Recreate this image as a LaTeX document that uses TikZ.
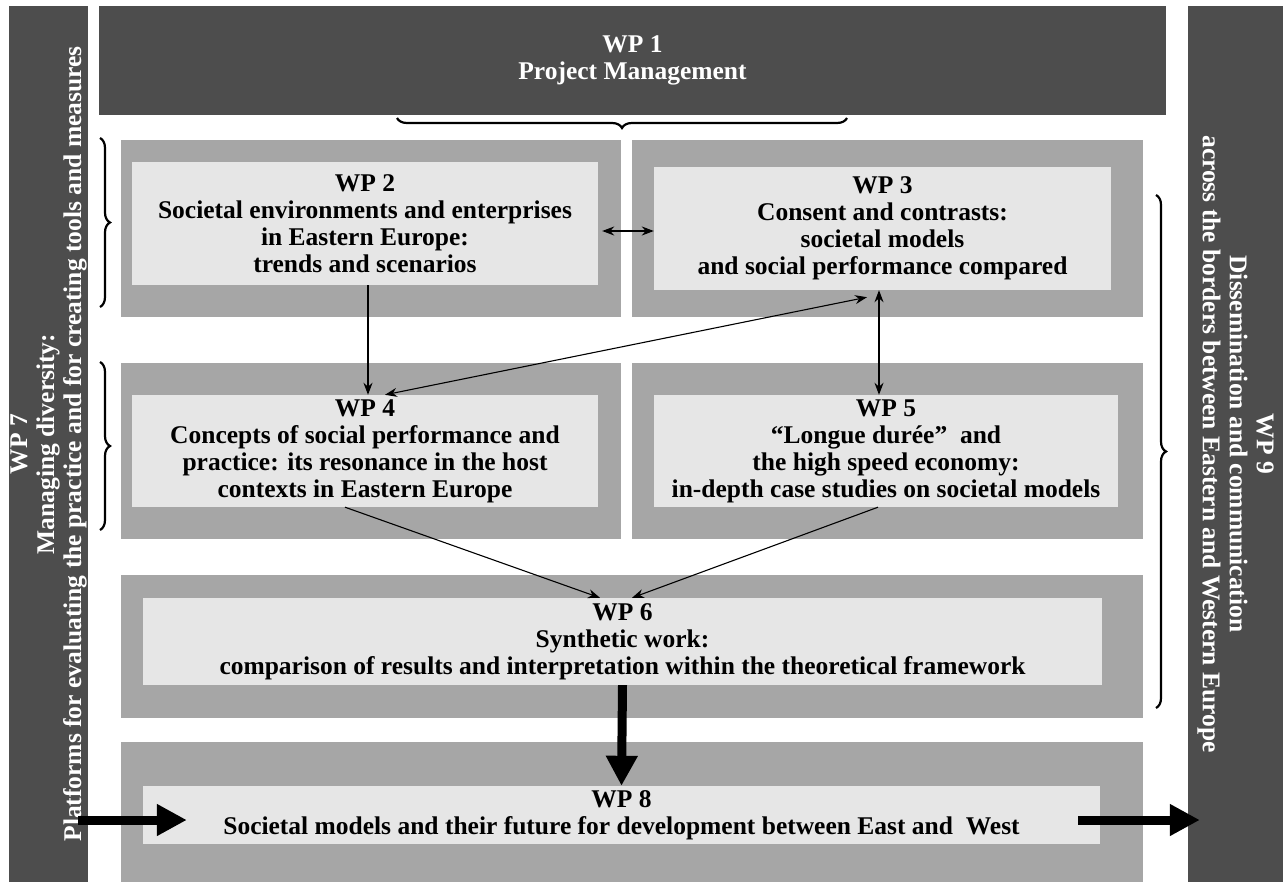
\documentclass[tikz,border=0pt]{standalone}
\usepackage{fontspec}
\setmainfont{Liberation Serif}
\usetikzlibrary{arrows.meta,decorations.pathreplacing,calc}
\definecolor{bardark}{HTML}{4D4D4D}
\definecolor{boxmid}{HTML}{A6A6A6}
\definecolor{boxlight}{HTML}{E6E6E6}
\newcommand\wpfont{\fontsize{25.5}{27}\selectfont\bfseries}
\begin{document}
\begin{tikzpicture}[x=1pt,y=-1pt,
  darkbox/.style={fill=bardark, draw=none, text=white, font=\wpfont, align=center, inner sep=0pt},
  outerbox/.style={fill=boxmid, draw=none, inner sep=0pt},
  innerbox/.style={fill=boxlight, draw=none, align=center, font=\wpfont, inner sep=0pt},
  thinarrow/.style={line width=1.1pt, -{Stealth[length=12pt,width=9pt]}},
  thinboth/.style={line width=1.1pt, {Stealth[length=12pt,width=9pt]}-{Stealth[length=12pt,width=9pt]}},
  thickarrow/.style={line width=9pt, -{Triangle[length=30pt,width=30pt]}},
  bracestyle/.style={decorate, decoration={brace, amplitude=10pt}, line width=2.2pt}]
\useasboundingbox[fill=white] (0,0) rectangle (1288,883);

% side bars and top
\node[darkbox, rotate=90, minimum width=876pt, minimum height=79pt] (wp7) at (48.5,444)
  {WP 7\\Managing diversity:\\Platforms for evaluating the practice and for creating tools and measures};
\node[darkbox, rotate=-90, minimum width=876pt, minimum height=95pt] (wp9) at (1235.5,444)
  {WP 9\\Dissemination and communication\\across the borders between Eastern and Western Europe};
\node[darkbox, minimum width=1067pt, minimum height=109pt] (wp1) at (632.5,60.5)
  {WP 1\\Project Management};

% outer boxes
\node[outerbox, minimum width=500pt, minimum height=177pt] (o2) at (371,228.5) {};
\node[outerbox, minimum width=511pt, minimum height=177pt] (o3) at (887.5,228.5) {};
\node[outerbox, minimum width=500pt, minimum height=176pt] (o4) at (371,451) {};
\node[outerbox, minimum width=511pt, minimum height=176pt] (o5) at (887.5,451) {};
\node[outerbox, minimum width=1022pt, minimum height=143pt] (o6) at (632,646.5) {};
\node[outerbox, minimum width=1022pt, minimum height=140pt] (o8) at (632,812) {};

% inner boxes
\node[innerbox, minimum width=466pt, minimum height=123pt] (i2) at (365,223.5)
  {WP 2\\Societal environments and enterprises\\in Eastern Europe:\\trends and scenarios};
\node[innerbox, minimum width=457pt, minimum height=123pt] (i3) at (882.5,228.5)
  {WP 3\\Consent and contrasts:\\societal models\\and social performance compared};
\node[innerbox, minimum width=466pt, minimum height=112pt] (i4) at (365,451)
  {WP 4\\Concepts of social performance and\\practice: its resonance in the host\\contexts in Eastern Europe};
\node[innerbox, minimum width=464pt, minimum height=112pt] (i5) at (886,451)
  {WP 5\\“Longue durée”\ \ and\\the high speed economy:\\in-depth case studies on societal models};
\node[innerbox, minimum width=959pt, minimum height=87pt] (i6) at (622.5,641.5)
  {WP 6\\Synthetic work:\\comparison of results and interpretation within the theoretical framework};
\node[innerbox, minimum width=957pt, minimum height=58pt] (i8) at (621.5,815)
  {WP 8\\Societal models and their future for development between East and\ \ West};

% braces
\coordinate (b1a) at (847,118);
\coordinate (b1b) at (397,118);
\draw[bracestyle] (b1a) -- (b1b);
\coordinate (b2a) at (100,138);
\coordinate (b2b) at (100,307);
\draw[bracestyle] (b2a) -- (b2b);
\coordinate (b3a) at (100,362);
\coordinate (b3b) at (100,530);
\draw[bracestyle] (b3a) -- (b3b);
\coordinate (b4a) at (1156,195);
\coordinate (b4b) at (1156,708);
\draw[bracestyle] (b4a) -- (b4b);

% thin connectors
\draw[thinboth] ($(i2.east)+(4,7.5)$) -- ($(i3.west)+(0,2.5)$);
\draw[thinarrow] ([xshift=3pt]i2.south) -- ([xshift=3pt]i4.north);
\draw[thinboth] ([xshift=20pt]i4.north) -- ($(i3.south)+(-15.5,7)$);
\draw[thinboth] ([xshift=-3.5pt]i3.south) -- ([xshift=-3.5pt]i3.south |- i5.north);
\draw[thinarrow] ([xshift=-20pt]i4.south) -- ([xshift=-22.5pt]i6.north);
\draw[thinarrow] ([xshift=-8pt]i5.south) -- ([xshift=9.5pt]i6.north);

% thick arrows
\draw[thickarrow] (i6.south) -- (i8.north);
\draw[thickarrow] ($(wp7.south |- i8.center)+(-10,5)$) -- ($(i8.west)+(44,5)$);
\draw[thickarrow] ($(i8.east)+(-22,5)$) -- ($(wp9.south |- i8.center)+(12,5)$);
\end{tikzpicture}
\end{document}
